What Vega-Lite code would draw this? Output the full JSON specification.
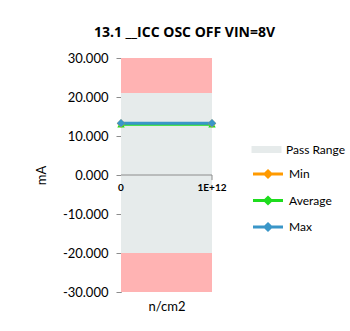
{
  "$schema": "https://vega.github.io/schema/vega-lite/v6.json",
  "autosize": "none",
  "width": 91,
  "height": 234,
  "padding": {"left": 121, "top": 58, "right": 138, "bottom": 39},
  "background": "white",
  "title": {"text": "13.1 __ICC OSC OFF VIN=8V", "font": "Open Sans", "fontSize": 14, "fontWeight": "bold", "color": "#000000", "anchor": "middle", "dx": 18, "offset": 12},
  "config": {
    "view": {"stroke": null},
    "axis": {"grid": false, "labelFont": "Lato", "titleFont": "Lato", "labelColor": "#000000", "titleColor": "#000000", "domainColor": "#8c8c8c", "tickColor": "#8c8c8c", "titleFontWeight": "normal"},
    "legend": {"labelFont": "Lato", "labelFontSize": 12, "labelColor": "#000000"}
  },
  "encoding": {
    "x": {"type": "quantitative", "scale": {"domain": [0, 1000000000000], "nice": false, "zero": false},
          "axis": {"domain": false, "ticks": false, "labels": false, "title": "n/cm2", "titleFontSize": 13, "titlePadding": 8}},
    "y": {"type": "quantitative", "scale": {"domain": [-30, 30], "nice": false},
          "axis": {"values": [-30, -20, -10, 0, 10, 20, 30], "labelExpr": "replace(format(datum.value, '.3f'), '\u2212', '-')", "labelOverlap": false, "labelFontSize": 13, "tickSize": 5, "labelPadding": 8, "title": "mA", "titleFontSize": 13, "titlePadding": 14}}
  },
  "layer": [
    {
      "data": {"values": [
        {"x0": 0, "x1": 1000000000000, "lo": 21, "hi": 30, "kind": "Fail"},
        {"x0": 0, "x1": 1000000000000, "lo": -20, "hi": 21, "kind": "Pass Range"},
        {"x0": 0, "x1": 1000000000000, "lo": -30, "hi": -20, "kind": "Fail"}
      ]},
      "mark": {"type": "rect"},
      "encoding": {
        "x": {"field": "x0"},
        "x2": {"field": "x1"},
        "y": {"field": "lo"},
        "y2": {"field": "hi"},
        "fill": {"field": "kind", "type": "nominal",
                 "scale": {"domain": ["Pass Range", "Fail"], "range": ["#e6ebeb", "#ffb3b3"]},
                 "legend": {"values": ["Pass Range"], "title": null, "orient": "none", "legendX": 138, "legendY": 84,
                            "symbolType": "M-2,-0.47H2V0.47H-2Z", "symbolSize": 225, "symbolStrokeWidth": 0, "labelOffset": 12}}
      }
    },
    {
      "data": {"values": [
        {"x": 0, "x2": 1000000000000, "y": 0, "y2": 0},
        {"x": 1000000000000, "x2": 1000000000000, "y": 0, "y2": -1.3}
      ]},
      "mark": {"type": "rule", "color": "#8c8c8c", "strokeWidth": 1},
      "encoding": {
        "x": {"field": "x"},
        "x2": {"field": "x2"},
        "y": {"field": "y"},
        "y2": {"field": "y2"}
      }
    },
    {
      "data": {"values": [
        {"x": 0, "y": 0, "label": "0"},
        {"x": 1000000000000, "y": 0, "label": "1E+12"}
      ]},
      "mark": {"type": "text", "font": "Lato", "fontSize": 10, "fontWeight": "bold", "color": "#000000", "baseline": "top", "align": "center", "dy": 8},
      "encoding": {
        "x": {"field": "x"},
        "y": {"field": "y"},
        "text": {"field": "label"}
      }
    },
    {
      "data": {"values": [
        {"x": 0, "v": 13.2, "s": "Min"},
        {"x": 1000000000000, "v": 13.2, "s": "Min"},
        {"x": 0, "v": 13.0, "s": "Average"},
        {"x": 1000000000000, "v": 13.0, "s": "Average"},
        {"x": 0, "v": 13.3, "s": "Max"},
        {"x": 1000000000000, "v": 13.3, "s": "Max"}
      ]},
      "layer": [
        {
          "mark": {"type": "line", "strokeWidth": 3},
          "encoding": {
            "x": {"field": "x"},
            "y": {"field": "v"},
            "color": {"field": "s", "type": "nominal",
                      "scale": {"domain": ["Min", "Average", "Max"], "range": ["#ff9a00", "#1edc1e", "#3a96c8"]},
                      "legend": {"title": null, "orient": "none", "legendX": 138, "legendY": 107,
                                 "symbolType": "M-2,0H2M0,-0.4L0.4,0L0,0.4L-0.4,0Z", "symbolSize": 225, "symbolStrokeWidth": 3, "labelOffset": 12, "rowPadding": 8.5}},
            "order": {"field": "s", "sort": "descending"}
          }
        },
        {
          "transform": [{"filter": "datum.s == 'Average'"}],
          "mark": {"type": "point", "filled": true, "size": 55, "opacity": 1, "shape": "triangle-up"},
          "encoding": {
            "x": {"field": "x"},
            "y": {"field": "v"},
            "color": {"field": "s", "type": "nominal"}
          }
        },
        {
          "transform": [{"filter": "datum.s != 'Average'"}],
          "mark": {"type": "point", "filled": true, "size": 70, "opacity": 1, "shape": "diamond"},
          "encoding": {
            "x": {"field": "x"},
            "y": {"field": "v"},
            "color": {"field": "s", "type": "nominal"},
            "order": {"field": "v"}
          }
        }
      ]
    }
  ]
}
